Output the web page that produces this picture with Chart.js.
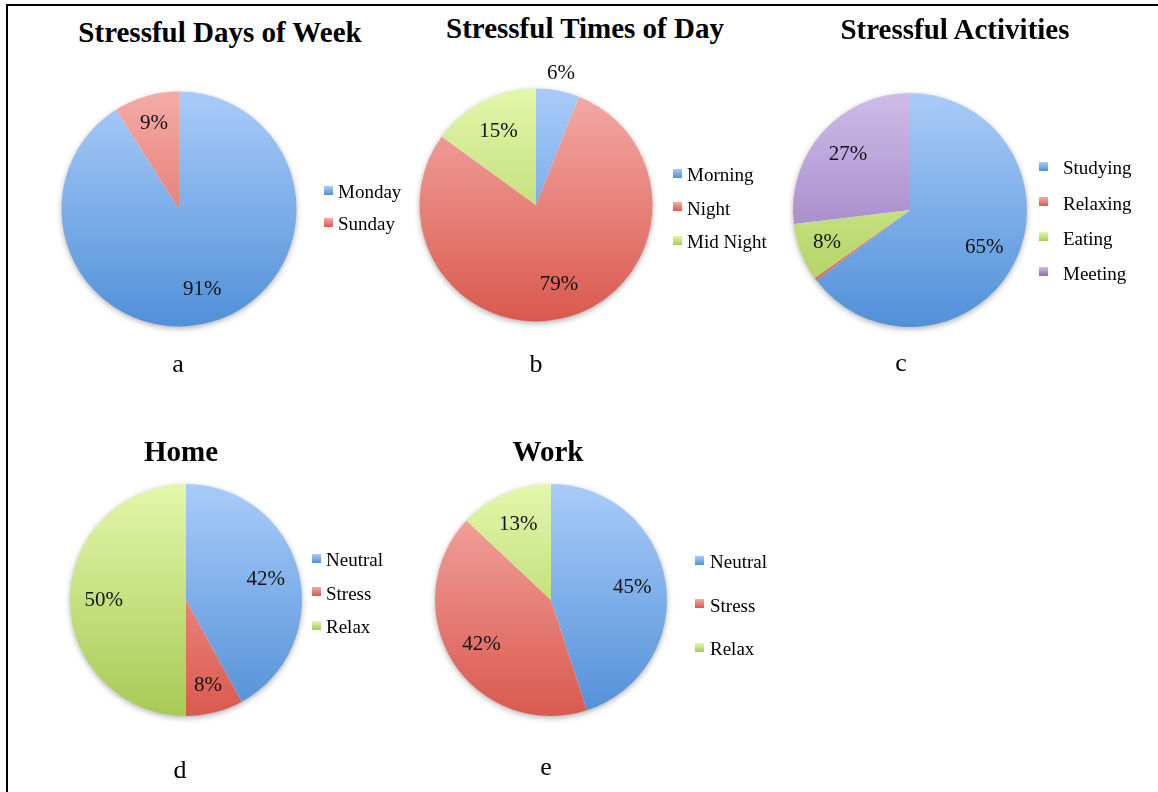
<!DOCTYPE html>
<html>
<head>
<meta charset="utf-8">
<script src="https://cdn.jsdelivr.net/npm/chart.js@4"></script>
<style>
  body { margin: 0; background: #fff; font-family: "Liberation Serif", "Times New Roman", serif; color: #000; }
  #page { position: relative; width: 1158px; height: 792px; overflow: hidden; }
  #frame { position: absolute; left: 6px; top: 4px; width: 1200px; height: 900px; border-left: 2px solid #000; border-top: 2px solid #000; }
  canvas { position: absolute; }
  .title { position: absolute; font-weight: bold; font-size: 29px; line-height: 1; white-space: nowrap; transform: translateX(-50%); }
  .caption { position: absolute; font-size: 26px; line-height: 1; transform: translateX(-50%); }
  .leg { position: absolute; font-size: 19px; line-height: 1; white-space: nowrap; }
  .sw { position: absolute; width: 9px; height: 9px; }
</style>
</head>
<body>
<div id="page"><div id="frame"></div></div>
<script>
// Data
const daysLabels = ['Monday', 'Sunday'];
const daysValues = [91, 9];

const timesLabels = ['Morning', 'Night', 'Mid Night'];
const timesValues = [6, 79, 15];

const activityLabels = ['Studying', 'Relaxing', 'Eating', 'Meeting'];
const activityValues = [65, 0.4, 8, 27];

const placeLabels = ['Neutral', 'Stress', 'Relax'];
const homeValues = [42, 8, 50];
const workValues = [45, 42, 13];

const chartTitles = ['Stressful Days of Week', 'Stressful Times of Day', 'Stressful Activities', 'Home', 'Work'];
const captions = ['a', 'b', 'c', 'd', 'e'];

// gradient colours (top, bottom)
const blue = ['#a9ccf9', '#5190d8'];
const red = ['#f4aba8', '#da594e'];
const green = ['#e3f7aa', '#a7ca56'];
const purple = ['#cebce8', '#8d6cb7'];

const page = document.getElementById('page');

// soft shadow under each pie
const shadowPlugin = {
  id: 'pieShadow',
  beforeDatasetsDraw(chart) {
    const arc = chart.getDatasetMeta(0).data[0];
    if (!arc) return;
    const ctx = chart.ctx;
    ctx.save();
    ctx.shadowColor = 'rgba(0,0,0,0.35)';
    ctx.shadowBlur = 6;
    ctx.shadowOffsetY = 2;
    ctx.fillStyle = '#fff';
    ctx.beginPath();
    ctx.arc(arc.x, arc.y, arc.outerRadius - 0.5, 0, Math.PI * 2);
    ctx.fill();
    ctx.restore();
  }
};

// percentage labels
const labelPlugin = {
  id: 'pctLabels',
  afterDatasetsDraw(chart) {
    const ctx = chart.ctx;
    const values = chart.data.datasets[0].data;
    ctx.save();
    ctx.font = '21px "Liberation Serif"';
    ctx.fillStyle = '#111';
    ctx.textAlign = 'center';
    ctx.textBaseline = 'middle';
    chart.getDatasetMeta(0).data.forEach((arc, i) => {
      const v = values[i];
      if (v < 1) return;
      const mid = (arc.startAngle + arc.endAngle) / 2;
      let f = 0.71;
      if (v < 7) f = 1.15;
      else if (v < 10) f = 0.76;
      const x = arc.x + Math.cos(mid) * arc.outerRadius * f;
      const y = arc.y + Math.sin(mid) * arc.outerRadius * f;
      ctx.fillText(Math.round(v) + '%', x, y);
    });
    ctx.restore();
  }
};

function addText(cls, text, x, y) {
  const d = document.createElement('div');
  d.className = cls;
  d.textContent = text;
  d.style.left = x + 'px';
  d.style.top = y + 'px';
  page.appendChild(d);
}

function makePie(o) {
  const half = 160;
  const canvas = document.createElement('canvas');
  canvas.width = half * 2;
  canvas.height = half * 2;
  canvas.style.left = (o.cx - half) + 'px';
  canvas.style.top = (o.cy - half) + 'px';
  page.appendChild(canvas);
  const pad = half - o.r;

  new Chart(canvas.getContext('2d'), {
    type: 'pie',
    data: {
      labels: o.labels,
      datasets: [{
        data: o.values,
        borderWidth: 0,
        backgroundColor: (c) => {
          const col = o.colors[c.dataIndex];
          const area = c.chart.chartArea;
          if (!area) return col[1];
          const g = c.chart.ctx.createLinearGradient(0, area.top, 0, area.bottom);
          g.addColorStop(0, col[0]);
          g.addColorStop(1, col[1]);
          return g;
        }
      }]
    },
    options: {
      responsive: false,
      animation: false,
      events: [],
      layout: { padding: pad },
      plugins: {
        legend: { display: false },
        tooltip: { enabled: false }
      }
    },
    plugins: [shadowPlugin, labelPlugin]
  });

  // title and caption
  addText('title', o.title, o.titleX, o.titleY);
  addText('caption', o.caption, o.capX, o.capY);

  // legend built from the chart labels
  o.labels.forEach((lab, i) => {
    const yc = o.legY + i * o.legStep;
    const sw = document.createElement('div');
    sw.className = 'sw';
    sw.style.left = o.swX + 'px';
    sw.style.top = (yc - 2 - 4.5) + 'px';
    sw.style.background = 'linear-gradient(' + o.colors[i][0] + ',' + o.colors[i][1] + ')';
    page.appendChild(sw);
    addText('leg', lab, o.txtX, yc - 9.6);
  });
}

makePie({
  labels: daysLabels, values: daysValues, colors: [blue, red],
  cx: 178.5, cy: 208.5, r: 117.5,
  title: chartTitles[0], titleX: 220, titleY: 18,
  caption: captions[0], capX: 178, capY: 351,
  swX: 324, txtX: 338, legY: 192, legStep: 32
});

makePie({
  labels: timesLabels, values: timesValues, colors: [blue, red, green],
  cx: 535.5, cy: 204.5, r: 116.5,
  title: chartTitles[1], titleX: 585, titleY: 14,
  caption: captions[1], capX: 536, capY: 351,
  swX: 673, txtX: 687, legY: 175, legStep: 33.5
});

makePie({
  labels: activityLabels, values: activityValues, colors: [blue, red, green, purple],
  cx: 910, cy: 210, r: 117,
  title: chartTitles[2], titleX: 955, titleY: 15,
  caption: captions[2], capX: 901, capY: 350,
  swX: 1039, txtX: 1063, legY: 168, legStep: 35.3
});

makePie({
  labels: placeLabels, values: homeValues, colors: [blue, red, green],
  cx: 186, cy: 600, r: 116,
  title: chartTitles[3], titleX: 181, titleY: 437,
  caption: captions[3], capX: 180, capY: 757,
  swX: 312, txtX: 326, legY: 560, legStep: 33.5
});

makePie({
  labels: placeLabels, values: workValues, colors: [blue, red, green],
  cx: 551, cy: 600, r: 116,
  title: chartTitles[4], titleX: 548, titleY: 437,
  caption: captions[4], capX: 546, capY: 754,
  swX: 695, txtX: 710, legY: 562, legStep: 43.5
});
</script>
</body>
</html>
